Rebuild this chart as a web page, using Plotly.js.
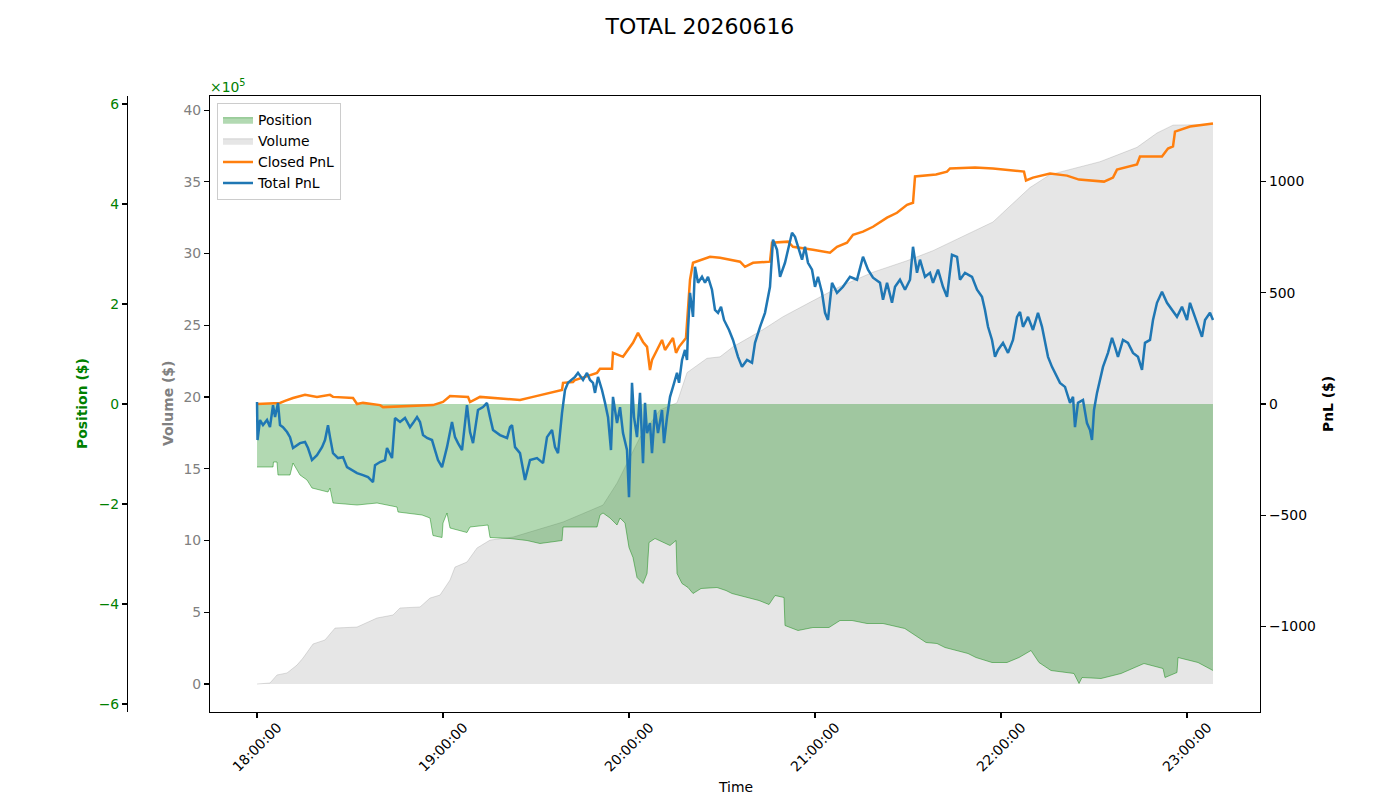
<!DOCTYPE html>
<html>
<head>
<meta charset="utf-8">
<script src="https://cdn.plot.ly/plotly-3.0.1.min.js"></script>
<style>
  html, body { margin: 0; padding: 0; background: #ffffff; }
  #chart { width: 1400px; height: 800px; }
</style>
</head>
<body>
<div id="chart"></div>
<script>
// Session: 2026-06-16, times given as minutes after 18:00:00
const sessionDate = '2026-06-16';
const chartTitle = 'TOTAL 20260616';
const hourTicks = ['18:00:00', '19:00:00', '20:00:00', '21:00:00', '22:00:00', '23:00:00'];

// Net position ($)
const positionMin = [0, 5.16, 5.3, 6.45, 6.77, 10.65, 11.61, 12.9, 13.87, 16.13, 17.74, 22.9, 23.55, 24.52, 32.26, 38.71, 45.16, 45.48, 53.23, 55.81, 56.77, 59.68, 60.0, 61.29, 62.26, 67.74, 68.71, 74.52, 75.16, 81.61, 87.1, 91.29, 98.39, 98.71, 109.68, 110.65, 111.61, 113.87, 116.13, 117.1, 118.71, 120.0, 121.29, 122.58, 124.52, 125.81, 126.45, 128.39, 133.23, 135.16, 135.48, 137.1, 139.03, 140.65, 143.23, 148.39, 151.29, 153.23, 158.39, 161.94, 165.16, 167.1, 170.0, 170.32, 174.52, 179.35, 184.52, 188.06, 191.94, 196.77, 201.94, 207.74, 208.97, 215.81, 219.35, 221.94, 229.35, 231.94, 237.1, 241.94, 245.81, 249.68, 252.26, 256.13, 263.55, 265.16, 266.13, 272.26, 278.71, 286.13, 292.26, 292.9, 296.77, 297.1, 303.55, 308.39];
const positionUsd = [-126000, -126000, -116000, -116000, -142000, -142000, -118000, -132000, -142000, -152000, -168000, -176000, -168000, -198000, -202000, -198000, -206000, -216000, -222000, -228000, -263000, -267000, -238000, -218000, -248000, -257000, -246000, -242000, -267000, -269000, -273000, -279000, -273000, -246000, -246000, -222000, -218000, -228000, -242000, -228000, -238000, -287000, -307000, -347000, -359000, -339000, -277000, -269000, -283000, -273000, -339000, -359000, -367000, -379000, -369000, -367000, -373000, -379000, -387000, -393000, -401000, -383000, -387000, -443000, -453000, -447000, -447000, -433000, -433000, -439000, -439000, -447000, -449000, -477000, -479000, -487000, -499000, -507000, -517000, -517000, -507000, -493000, -517000, -533000, -539000, -559000, -547000, -549000, -539000, -519000, -529000, -547000, -537000, -507000, -517000, -533000];

// Cumulative traded volume (x10^5 $)
const volumeMin = [0, 4.19, 6.45, 9.68, 12.9, 14.84, 18.06, 21.94, 25.16, 32.26, 38.71, 43.87, 46.13, 52.58, 55.81, 59.03, 62.26, 63.87, 67.74, 70.97, 75.16, 82.58, 98.71, 111.61, 116.13, 123.55, 130.0, 135.48, 138.71, 145.16, 149.35, 153.55, 163.23, 169.68, 178.39, 188.06, 198.71, 209.68, 218.06, 226.77, 237.42, 243.87, 249.35, 255.81, 264.52, 271.94, 283.87, 290.32, 295.48, 308.39];
const volumeVal = [0, 0.07, 0.63, 0.77, 1.32, 1.81, 2.79, 3.07, 3.9, 3.97, 4.6, 4.81, 5.3, 5.37, 5.99, 6.2, 7.25, 8.15, 8.5, 9.48, 10.03, 10.24, 11.29, 12.47, 14.0, 17.2, 19.1, 19.6, 21.7, 22.7, 22.8, 23.5, 24.7, 25.6, 26.6, 27.7, 28.7, 29.5, 30.2, 31.1, 32.2, 33.5, 34.6, 35.5, 36.0, 36.4, 37.4, 38.4, 38.95, 39.0];

// Realised PnL ($)
const closedMin = [
  0, 7.42, 9.03, 11.61, 15.48, 19.35, 23.55, 24.52, 30.97, 32.26, 34.19, 39.68, 40.65, 51.61, 56.77, 60.0, 62.26, 68.06, 68.71, 71.94, 81.61, 84.84, 89.03, 94.52, 98.39, 98.71, 101.94,
  102.58, 109.68, 110.65, 114.52, 114.84, 118.06, 121.29, 122.9, 124.52, 125.81, 126.77, 127.42, 129.03, 130.65, 131.61, 134.19, 135.16, 136.13, 138.39, 139.68, 140.65, 143.87, 146.13, 149.35,
  155.81, 157.42, 160.0, 165.48, 166.13, 171.29, 172.9, 179.35, 184.84, 187.1, 190.32, 192.26, 195.48, 198.71, 203.23, 206.45, 209.68, 211.61, 212.26, 219.03, 222.58, 223.55, 231.61, 237.42, 246.13, 247.42, 248.06, 250.32, 255.81, 261.29, 265.16, 273.23, 276.13, 277.42, 283.87, 284.84, 291.94, 293.87, 295.48, 296.13, 300.97, 305.16, 308.39
];
const closedPnl = [
  0, 5, 14, 27, 41, 32, 41, 32, 27, 0, 5, -5, -14, -9, -5, 9, 36, 32, 9, 32, 23, 18, 32, 50, 63, 95, 99,
  108, 140, 158, 158, 230, 212, 275, 320, 279, 257, 153, 198, 243, 288, 243, 297, 230, 257, 297, 559, 635, 649, 662, 658,
  640, 617, 635, 640, 725, 730, 707, 694, 680, 707, 725, 761, 775, 797, 838, 860, 896, 905, 1023, 1032, 1045, 1059, 1063, 1059, 1045, 1045, 1005, 1018, 1036, 1027, 1009, 1000, 1018, 1054, 1077, 1113, 1113, 1149, 1158, 1225, 1248, 1257, 1261
];

// Realised + unrealised PnL ($)
const totalMin = [
  0, 0.16, 0.97, 1.94, 3.23, 4.19, 5.16, 5.81, 6.77, 7.42, 8.39, 9.68, 10.65, 11.61, 13.87, 15.48, 16.45, 17.74, 19.35, 20.97,
  21.94, 22.9, 23.55, 24.52, 26.13, 27.74, 29.03, 30.65, 32.26, 34.19, 35.81, 37.42, 38.06, 39.68, 41.29, 41.94, 42.9, 43.55, 44.52, 46.13,
  47.74, 49.35, 50.32, 51.61, 52.58, 53.55, 54.84, 56.45, 57.42, 58.39, 59.68, 61.29, 62.9, 63.87, 64.84, 66.13, 67.74, 68.71, 69.68, 71.29,
  72.9, 74.19, 75.16, 76.13, 78.39, 80.65, 81.61, 82.26, 83.23, 84.84, 86.45, 88.06, 90.32, 92.26, 93.55, 95.16, 96.13, 97.1, 98.39, 99.35,
  100.32, 102.58, 103.55, 105.16, 106.45,
  107.42, 108.39, 109.03, 110, 111.29, 112.26, 113.23, 114.19, 114.84, 116.13, 117.1, 118.06, 119.35, 120, 120.97, 121.61, 122.58, 123.55, 124.52, 125.16,
  125.81, 126.77, 127.42, 128.39, 129.35, 130.65, 131.29, 132.26, 133.23, 134.19, 135.48, 136.13, 137.1, 138.06, 138.71, 139.03, 139.68, 140.65, 141.29, 142.26,
  143.55, 144.52, 145.48, 146.77, 147.74, 148.71,
  149.68, 150.65, 152.26, 153.55, 155.16, 156.45, 158.06, 159.68, 160.65, 162.26, 163.87, 165.48, 166.45, 167.74, 168.71, 170.32, 171.29, 172.58, 173.55, 174.52,
  175.81, 176.77, 177.74, 179.03, 180.0, 180.97, 182.26, 183.23, 184.19, 185.48, 187.1, 189.03, 191.29, 193.55, 195.48, 197.1, 198.71, 200.97, 201.94, 203.23,
  204.84, 205.81, 207.42, 209.03, 210.65, 211.61, 212.9, 213.87, 215.48, 217.1, 218.06, 219.68, 221.29, 222.58, 224.19, 225.81, 226.77, 228.39, 230.65, 232.26,
  233.87, 234.84, 235.81, 237.1, 238.06, 239.03, 240.65, 242.26, 243.87, 245.16, 246.13, 247.1, 248.71, 250.32, 251.94, 253.23, 254.19, 255.16, 256.45, 257.42,
  259.03, 260.65, 262.26, 263.23, 263.87, 264.84, 266.45, 267.74, 268.71, 269.35, 270.0, 270.97, 271.94, 272.9, 274.52, 275.81, 276.77, 277.74, 279.35, 280.97,
  282.58, 284.19, 285.48, 286.45, 288.06, 289.03, 290.32, 291.94, 293.55, 295.16, 296.77, 298.39, 300.0, 300.97, 302.58, 303.55, 304.84, 305.81, 307.42, 308.39
];
const totalPnl = [
  9, -162, -72, -95, -72, -104, -5, -59, 5, -95, -104, -126, -149, -198, -176, -171, -198, -252, -230, -194,
  -162, -95, -149, -221, -243, -239, -284, -297, -311, -320, -329, -351, -275, -261, -252, -198, -221, -243, -63, -81,
  -63, -104, -86, -59, -81, -140, -153, -162, -207, -252, -284, -194, -81, -149, -176, -207, -5, -126, -176, -27,
  -14, 5, -59, -117, -140, -153, -104, -95, -194, -221, -342, -252, -243, -266, -149, -117, -194, -221, -41, 63,
  95, 122, 140, 108, 140,
  108, 95, 50, 122, 63, 5, -59, -207, 32, -86, -14, -131, -207, -419, 95, -59, -149, 50, -266, 5,
  -131, -86, -221, -27, -131, -27, -176, -59, 32, 77, 140, 95, 198, 243, 198, 333, 500, 392, 617, 545,
  572, 545, 572, 514, 423, 410,
  437, 378, 333, 288, 212, 167, 198, 185, 275, 347, 410, 527, 739, 694, 572, 635, 694, 770, 752, 707,
  649, 707, 635, 604, 527, 572, 500, 410, 378, 545, 500, 527, 572, 559, 662, 604, 568, 545, 469, 545,
  455, 527, 559, 514, 559, 707, 590, 649, 572, 590, 545, 604, 527, 482, 671, 662, 559, 590, 572, 514,
  482, 423, 347, 288, 212, 243, 275, 230, 288, 392, 414, 347, 392, 333, 410, 347, 275, 212, 167, 140,
  95, 77, 5, 32, -104, 5, 18, -86, -117, -162, -27, 50, 108, 167, 230, 297, 257, 212, 288, 275,
  230, 212, 153, 275, 288, 378, 455, 505, 455, 423, 392, 437, 378, 455, 392, 347, 302, 378, 410, 378
];

// Axis ranges
const timeRangeMin = [-15.16, 323.55];
const volumeRange = [-1.95, 40.98];
const positionRange = [-616000, 616000];
const pnlRange = [-1385, 1385];

function stamp(min) {
  let s = Math.round(min * 60) + 18 * 3600;
  const h = Math.floor(s / 3600);
  s -= h * 3600;
  const m = Math.floor(s / 60);
  const sec = s - m * 60;
  const p = v => String(v).padStart(2, '0');
  return sessionDate + ' ' + p(h) + ':' + p(m) + ':' + p(sec);
}
const ts = arr => arr.map(stamp);

const FONT = 'DejaVu Sans, Liberation Sans, sans-serif';
const FS = 13.9;

const traces = [
  {
    name: 'Volume', x: ts(volumeMin), y: volumeVal, yaxis: 'y',
    type: 'scatter', mode: 'lines', fill: 'tozeroy',
    fillcolor: 'rgba(128,128,128,0.2)', line: {color: 'rgba(128,128,128,0.25)', width: 1},
    legendrank: 2, hoverinfo: 'skip'
  },
  {
    name: 'Position', x: ts(positionMin), y: positionUsd, yaxis: 'y2',
    type: 'scatter', mode: 'lines', fill: 'tozeroy',
    fillcolor: 'rgba(0,128,0,0.3)', line: {color: 'rgba(0,128,0,0.45)', width: 1},
    legendrank: 1, hoverinfo: 'skip'
  },
  {
    name: 'Closed PnL', x: ts(closedMin), y: closedPnl, yaxis: 'y3',
    type: 'scatter', mode: 'lines', line: {color: '#ff7f0e', width: 2.5},
    legendrank: 3, hoverinfo: 'skip'
  },
  {
    name: 'Total PnL', x: ts(totalMin), y: totalPnl, yaxis: 'y3',
    type: 'scatter', mode: 'lines', line: {color: '#1f77b4', width: 2.5},
    legendrank: 4, hoverinfo: 'skip'
  }
];

const posTicks = [-600000, -400000, -200000, 0, 200000, 400000, 600000];
const posText = ['\u22126', '\u22124', '\u22122', '0', '2', '4', '6'];
const pnlTicks = [-1000, -500, 0, 500, 1000];
const pnlText = ['\u22121000', '\u2212500', '0', '500', '1000'];

const annotations = hourTicks.map(h => ({
  x: sessionDate + ' ' + h, xref: 'x', y: 0.066, yref: 'paper',
  text: h, showarrow: false, textangle: -45,
  xanchor: 'center', yanchor: 'middle',
  font: {family: FONT, size: FS, color: '#000000'}
}));
annotations.push(
  {x: 0.0586, y: 0.495, xref: 'paper', yref: 'paper', xanchor: 'center', yanchor: 'middle',
   text: '<b>Position ($)</b>', showarrow: false, textangle: -90, font: {family: FONT, size: FS, color: '#008000'}},
  {x: 0.12, y: 0.495, xref: 'paper', yref: 'paper', xanchor: 'center', yanchor: 'middle',
   text: '<b>Volume ($)</b>', showarrow: false, textangle: -90, font: {family: FONT, size: FS, color: '#808080'}},
  {x: 0.9486, y: 0.495, xref: 'paper', yref: 'paper', xanchor: 'center', yanchor: 'middle',
   text: '<b>PnL ($)</b>', showarrow: false, textangle: -90, font: {family: FONT, size: FS, color: '#000000'}},
  {x: 0.525, y: 0.016, xref: 'paper', yref: 'paper', xanchor: 'center', yanchor: 'middle',
   text: 'Time', showarrow: false, font: {family: FONT, size: FS, color: '#000000'}},
  {x: 0.1485, y: 0.8925, xref: 'paper', yref: 'paper', xanchor: 'left', yanchor: 'middle',
   text: '\u00d710<sup>5</sup>', showarrow: false, font: {family: FONT, size: FS, color: '#008000'}}
);

const layout = {
  width: 1400, height: 800,
  margin: {l: 0, r: 0, t: 0, b: 0},
  paper_bgcolor: '#ffffff', plot_bgcolor: '#ffffff',
  font: {family: FONT, size: FS, color: '#000000'},
  title: {text: chartTitle, x: 0.5, xref: 'paper', xanchor: 'center', y: 0.9675, yanchor: 'middle',
          font: {family: FONT, size: 22, color: '#000000'}},
  showlegend: true,
  legend: {x: 0.155, y: 0.871, xanchor: 'left', yanchor: 'top',
           bgcolor: 'rgba(255,255,255,0.8)', bordercolor: '#cccccc', borderwidth: 1,
           font: {family: FONT, size: FS, color: '#000000'}, itemwidth: 30, tracegroupgap: 0},
  xaxis: {
    type: 'date', domain: [0.15, 0.9], range: [stamp(timeRangeMin[0]), stamp(timeRangeMin[1])],
    tickmode: 'array', tickvals: hourTicks.map(h => sessionDate + ' ' + h),
    showticklabels: false, ticks: 'outside', ticklen: 5, tickwidth: 1.1, tickcolor: '#000000',
    showline: true, linecolor: '#000000', linewidth: 1.1, mirror: true,
    showgrid: false, zeroline: false, fixedrange: true
  },
  yaxis: {
    domain: [0.11, 0.88], range: volumeRange,
    tickmode: 'array', tickvals: [0, 5, 10, 15, 20, 25, 30, 35, 40],
    tickfont: {family: FONT, size: FS, color: '#808080'},
    ticks: 'outside', ticklen: 5, tickwidth: 1.1, tickcolor: '#000000',
    showline: true, linecolor: '#000000', linewidth: 1.1,
    showgrid: false, zeroline: false, fixedrange: true
  },
  yaxis2: {
    overlaying: 'y', anchor: 'free', position: 0.0907, side: 'left',
    range: positionRange, tickmode: 'array', tickvals: posTicks, ticktext: posText,
    tickfont: {family: FONT, size: FS, color: '#008000'},
    ticks: 'outside', ticklen: 5, tickwidth: 1.1, tickcolor: '#000000',
    showline: true, linecolor: '#000000', linewidth: 1.1,
    showgrid: false, zeroline: false, fixedrange: true
  },
  yaxis3: {
    overlaying: 'y', anchor: 'x', side: 'right',
    range: pnlRange, tickmode: 'array', tickvals: pnlTicks, ticktext: pnlText,
    tickfont: {family: FONT, size: FS, color: '#000000'},
    ticks: 'outside', ticklen: 5, tickwidth: 1.1, tickcolor: '#000000',
    showline: true, linecolor: '#000000', linewidth: 1.1,
    showgrid: false, zeroline: false, fixedrange: true
  },
  annotations: annotations
};

Plotly.newPlot('chart', traces, layout, {displayModeBar: false, staticPlot: true});
</script>
</body>
</html>
